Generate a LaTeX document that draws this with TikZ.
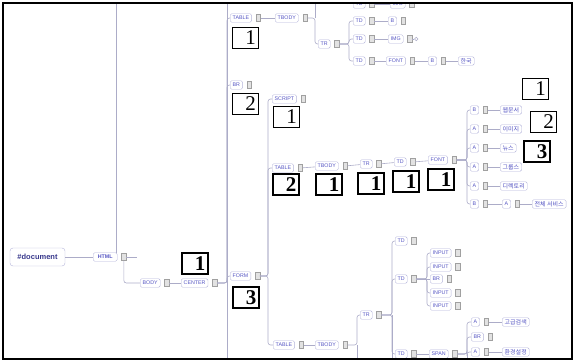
\documentclass[tikz,border=0pt]{standalone}
\usepackage{fontspec}
\usetikzlibrary{positioning}
\newfontfamily\tagfont{Liberation Sans}
\newfontfamily\kor{Noto Sans CJK KR}
\newfontfamily\ziffer{Liberation Serif}
\definecolor{linie}{RGB}{172,172,200}
\definecolor{tagrand}{RGB}{180,180,218}
\definecolor{tagtext}{RGB}{86,86,196}
\definecolor{dokblau}{RGB}{56,56,140}
\definecolor{icograu}{RGB}{160,160,160}
\tikzset{
  tagbox/.style={draw=tagrand, fill=white, rounded corners=1.5pt, text=tagtext,
    font=\tagfont\fontsize{5.3}{6}\selectfont, inner xsep=2.5pt, inner ysep=0pt,
    minimum height=8.5pt, anchor=west},
  kortag/.style={tagbox, font=\kor\fontsize{6}{6}\selectfont},
  ico/.style={draw=icograu, fill=icograu!30, inner sep=0pt, minimum width=4.5pt, minimum height=7pt},
  ast/.style={draw=linie, line width=0.6pt, rounded corners=2.5pt},
  zahl/.style={draw, fill=white, line width=0.7pt, anchor=north west, minimum height=21pt,
    text width=21pt, align=right, inner xsep=2.5pt, inner ysep=0pt,
    font=\ziffer\fontsize{21}{21}\selectfont},
  zahlfett/.style={zahl, line width=1.8pt, font=\ziffer\bfseries\fontsize{21}{21}\selectfont}
}
\begin{document}
\begin{tikzpicture}[x=1pt,y=-1pt]
\useasboundingbox (0,0) rectangle (574,362);
\coordinate (rahmenA) at (2.5,2.5);
\coordinate (rahmenB) at (571.5,358.5);
\coordinate (unten) at (0,362);
% Staemme der Baumansicht
\coordinate (stHtml) at (116,0);
\coordinate (stCenter) at (227,0);
\coordinate (stTbody1) at (315,0);
\coordinate (stTr1) at (349,0);
\coordinate (stForm) at (268,0);
\coordinate (stFont2) at (467,0);
\coordinate (stTbody3) at (357,0);
\coordinate (stTr3) at (392,0);
\coordinate (stTd6) at (427,0);
\coordinate (stSpan) at (467,0);
\begin{scope}
\clip (rahmenA) rectangle (rahmenB);
% Wurzel, HTML, BODY, CENTER
\node[draw=tagrand, fill=white, rounded corners=3pt, minimum width=55pt, minimum height=18pt,
  text=dokblau, font=\tagfont\bfseries\fontsize{7.5}{8}\selectfont] (doc) at (37.5,257) {\#document};
\node[tagbox, minimum width=24pt, font=\tagfont\bfseries\fontsize{5.3}{6}\selectfont] (html) at (93,257) {HTML};
\node[ico, right=4pt of html] (htmli) {};
\coordinate (htmlstub) at (137,257);
\node[tagbox] (body) at (140,283) {BODY};
\node[ico, right=4pt of body] (bodyi) {};
\node[tagbox] (center) at (181,283) {CENTER};
\node[ico, right=4pt of center] (centeri) {};
\draw[ast] (doc) -- (html);
\draw[ast] (stHtml) -- (stHtml |- html.north);
\draw[ast] (htmli) -- (htmlstub);
\draw[ast] (htmli.south) |- (body.west);
\draw[ast] (bodyi) -- (center);
\draw[ast] (stCenter) -- (stCenter |- unten); % langer Strich
% obere Tabelle
\node[tagbox] (table1) at (230,18) {TABLE};
\node[ico, right=4pt of table1] (table1i) {};
\node[tagbox] (tbody1) at (275,18) {TBODY};
\node[ico, right=4pt of tbody1] (tbody1i) {};
\node[tagbox] (tr1) at (318,44) {TR};
\node[ico, right=4pt of tr1] (tr1i) {};
\draw[ast] (centeri.east) -- (centeri.east -| stCenter) |- (table1.west);
\draw[ast] (table1i) -- (tbody1);
\draw[ast] (tbody1i.east) -- (tbody1i.east -| stTbody1) |- (tr1.west);
\draw[ast] (tbody1i.east -| stTbody1) -- (stTbody1);
\node[tagbox] (td0) at (353,4) {TD};
\node[ico, right=4pt of td0] (td0i) {};
\node[tagbox] (img0) at (390,4) {IMG};
\node[ico, right=4pt of img0] (img0i) {};
\draw[ast] (td0i) -- (img0);
\node[tagbox] (td1) at (353,21) {TD};
\node[ico, right=4pt of td1] (td1i) {};
\node[tagbox] (b1) at (388,21) {B};
\node[ico, right=4pt of b1] (b1i) {};
\node[tagbox] (td2) at (353,39) {TD};
\node[ico, right=4pt of td2] (td2i) {};
\node[tagbox] (img1) at (388,39) {IMG};
\node[ico, right=4pt of img1] (img1i) {};
\node[draw=linie, circle, inner sep=0pt, minimum size=3.5pt, right=2pt of img1i] (img1p) {};
\node[tagbox] (td3) at (353,61) {TD};
\node[ico, right=4pt of td3] (td3i) {};
\node[tagbox] (font1) at (386,61) {FONT};
\node[ico, right=4pt of font1] (font1i) {};
\node[tagbox] (b2) at (428,61) {B};
\node[ico, right=4pt of b2] (b2i) {};
\node[kortag] (han) at (458,61) {한국};
\foreach \t in {td1,td2,td3}
  \draw[ast] (tr1i.east) -- (tr1i.east -| stTr1) |- (\t.west);
\draw[ast] (td1i) -- (b1);
\draw[ast] (td2i) -- (img1);
\draw[ast] (img1i) -- (img1p);
\draw[ast] (td3i) -- (font1);
\draw[ast] (font1i) -- (b2);
\draw[ast] (b2i) -- (han);
% BR und FORM
\node[tagbox] (br1) at (230,85) {BR};
\node[ico, right=4pt of br1] (br1i) {};
\node[tagbox] (form) at (230,276) {FORM};
\node[ico, right=4pt of form] (formi) {};
\draw[ast] (centeri.east) -- (centeri.east -| stCenter) |- (br1.west);
\draw[ast] (centeri.east) -- (centeri.east -| stCenter) |- (form.west);
\node[tagbox] (script) at (272,99) {SCRIPT};
\node[ico, right=4pt of script] (scripti) {};
\node[tagbox] (table2) at (272,168) {TABLE};
\node[ico, right=4pt of table2] (table2i) {};
\node[tagbox] (tbody2) at (315,166) {TBODY};
\node[ico, right=4pt of tbody2] (tbody2i) {};
\node[tagbox] (tr2) at (360,164) {TR};
\node[ico, right=4pt of tr2] (tr2i) {};
\node[tagbox] (td4) at (394,162) {TD};
\node[ico, right=4pt of td4] (td4i) {};
\node[tagbox] (font2) at (428,160) {FONT};
\node[ico, right=4pt of font2] (font2i) {};
\node[tagbox] (table3) at (273,345) {TABLE};
\node[ico, right=4pt of table3] (table3i) {};
\node[tagbox] (tbody3) at (315,345) {TBODY};
\node[ico, right=4pt of tbody3] (tbody3i) {};
\foreach \t in {script,table2,table3}
  \draw[ast] (formi.east) -- (formi.east -| stForm) |- (\t.west);
\draw[ast] (table2i) -- (tbody2);
\draw[ast] (tbody2i) -- (tr2);
\draw[ast] (tr2i) -- (td4);
\draw[ast] (td4i) -- (font2);
\draw[ast] (table3i) -- (tbody3);
% Menue unter FONT
\foreach \n/\y/\t/\k in {1/110/B/웹문서, 2/129/A/이미지, 3/148/A/뉴스, 4/167/A/그룹스, 5/186/A/디렉토리}{
  \node[tagbox] (m\n) at (470,\y) {\t};
  \node[ico, right=4pt of m\n] (m\n-i) {};
  \node[kortag] (mk\n) at (500,\y) {\k};
  \draw[ast] (font2i.east) -- (font2i.east -| stFont2) |- (m\n.west);
  \draw[ast] (m\n-i) -- (mk\n);
}
\node[tagbox] (m6) at (470,204) {B};
\node[ico, right=4pt of m6] (m6-i) {};
\node[tagbox] (a6) at (502,204) {A};
\node[ico, right=4pt of a6] (a6-i) {};
\node[kortag] (mk6) at (532,204) {전체 서비스};
\draw[ast] (font2i.east) -- (font2i.east -| stFont2) |- (m6.west);
\draw[ast] (m6-i) -- (a6);
\draw[ast] (a6-i) -- (mk6);
% untere Tabelle
\node[tagbox] (tr3) at (360,315) {TR};
\node[ico, right=4pt of tr3] (tr3i) {};
\draw[ast] (tbody3i.east) -- (tbody3i.east -| stTbody3) |- (tr3.west);
\draw[ast] (tbody3i.east -| stTbody3) -- (stTbody3 |- unten);
\node[tagbox] (td5) at (395,241) {TD};
\node[ico, right=4pt of td5] (td5i) {};
\node[tagbox] (td6) at (395,279) {TD};
\node[ico, right=4pt of td6] (td6i) {};
\node[tagbox] (td7) at (395,354) {TD};
\node[ico, right=4pt of td7] (td7i) {};
\foreach \t in {td5,td6,td7}
  \draw[ast] (tr3i.east) -- (tr3i.east -| stTr3) |- (\t.west);
\draw[ast] (tr3i.east -| stTr3) -- (stTr3 |- unten);
\foreach \n/\y in {1/253, 2/267, 3/293, 4/306}{
  \node[tagbox] (in\n) at (430,\y) {INPUT};
  \node[ico, right=4pt of in\n] (in\n-i) {};
  \draw[ast] (td6i.east) -- (td6i.east -| stTd6) |- (in\n.west);
}
\node[tagbox] (br2) at (430,279) {BR};
\node[ico, right=4pt of br2] (br2i) {};
\draw[ast] (td6i) -- (br2);
\node[tagbox] (span) at (429,354) {SPAN};
\node[ico, right=4pt of span] (spani) {};
\draw[ast] (td7i) -- (span);
\node[tagbox] (a1) at (471,322) {A};
\node[ico, right=4pt of a1] (a1i) {};
\node[kortag] (such) at (502,322) {고급검색};
\node[tagbox] (br3) at (471,337) {BR};
\node[ico, right=4pt of br3] (br3i) {};
\node[tagbox] (a2) at (471,352) {A};
\node[ico, right=4pt of a2] (a2i) {};
\node[kortag] (einst) at (502,352) {환경설정};
\foreach \t in {a1,br3,a2}
  \draw[ast] (spani.east) -- (spani.east -| stSpan) |- (\t.west);
\draw[ast] (spani.east -| stSpan) -- (stSpan |- unten);
\draw[ast] (a1i) -- (such);
\draw[ast] (a2i) -- (einst);
% Nummernkaestchen
\node[zahl] (z1) at (232,27) {1};
\node[zahl] (z2) at (232,93) {2};
\node[zahl] (z3) at (273,106) {1};
\node[zahl] (z4) at (522,78) {1};
\node[zahl] (z5) at (530,111) {2};
\node[zahlfett] (z6) at (181,252) {1};
\node[zahlfett] (z7) at (232,286) {3};
\node[zahlfett] (z8) at (272,173) {2};
\node[zahlfett] (z9) at (315,173) {1};
\node[zahlfett] (z10) at (357,172) {1};
\node[zahlfett] (z11) at (392,170) {1};
\node[zahlfett] (z12) at (427,168) {1};
\node[zahlfett] (z13) at (523,140) {3};
\end{scope}
\draw[line width=2pt] (rahmenA) rectangle (rahmenB); % Rahmen
\end{tikzpicture}
\end{document}
